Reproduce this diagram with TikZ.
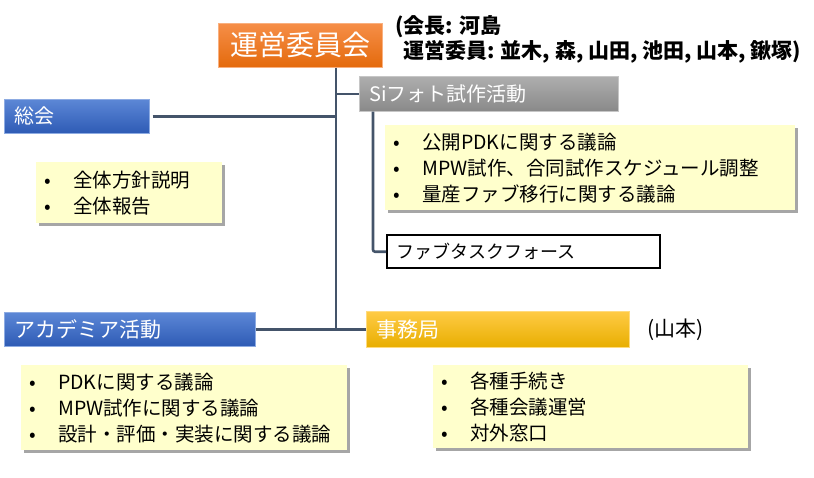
\documentclass[tikz,border=0pt]{standalone}
\usepackage{fontspec}
\setmainfont{Noto Sans CJK JP}
\usetikzlibrary{shadows}
\definecolor{connc}{HTML}{44546A}
\definecolor{orgtop}{HTML}{F68E48}
\definecolor{orgbot}{HTML}{E46A0C}
\definecolor{bluetop}{HTML}{5C87D6}
\definecolor{bluebot}{HTML}{2E5BB5}
\definecolor{graytop}{HTML}{AEAEAE}
\definecolor{graybot}{HTML}{898989}
\definecolor{goldtop}{HTML}{FFCB45}
\definecolor{goldmid}{HTML}{FFC000}
\definecolor{goldbot}{HTML}{E8AE00}
\definecolor{notefill}{HTML}{FFFFCC}
\newcommand\bul{\makebox[29pt][l]{\makebox[8pt]{•}}}
\begin{document}
\begin{tikzpicture}[x=1pt,y=-1pt,
  hdr/.style={anchor=north west, inner xsep=10pt, inner ysep=0pt, text=white,
    font=\fontsize{20}{24}\selectfont, align=left},
  orangefill/.style={top color=orgtop, bottom color=orgbot, draw=orgtop!70!white, line width=0.6pt},
  bluefill/.style={top color=bluetop, bottom color=bluebot, draw=bluetop!70!white, line width=0.6pt},
  grayfill/.style={top color=graytop, bottom color=graybot, draw=graytop!70!white, line width=0.6pt},
  goldfill/.style={top color=goldtop, middle color=goldmid, bottom color=goldbot, draw=goldtop!70!white, line width=0.6pt},
  fabbox/.style={anchor=north west, inner xsep=9pt, inner ysep=0pt, draw=black, line width=2.4pt, fill=white,
    font=\fontsize{18}{22}\selectfont, align=left},
  notebox/.style={anchor=north west, inner xsep=8pt, inner ysep=0pt, fill=notefill, align=left,
    font=\fontsize{19.5}{26}\selectfont,
    drop shadow={shadow xshift=3pt, shadow yshift=-3pt, fill=black, opacity=0.35}},
  conn/.style={draw=connc, line width=2.6pt},
  notetext/.style={anchor=west, inner sep=0pt, font=\fontsize{21}{26}\selectfont\bfseries}
]
\useasboundingbox (0,0) rectangle (814,477);

% header boxes
\node[hdr, orangefill, minimum width=164pt, minimum height=44pt, text width=144pt, align=center,
  font=\fontsize{28}{30}\selectfont] (comm) at (218,23) {運営委員会};
\node[hdr, bluefill, minimum width=145pt, minimum height=34pt, text width=125pt] (soukai) at (4,99) {総会};
\node[hdr, grayfill, minimum width=259pt, minimum height=35pt, text width=239pt] (si) at (359,76) {Siフォト試作活動};
\node[hdr, bluefill, minimum width=251pt, minimum height=34pt, text width=231pt,
  font=\fontsize{21}{24}\selectfont] (acad) at (4,312) {アカデミア活動};
\node[hdr, goldfill, minimum width=263pt, minimum height=36pt, text width=243pt,
  font=\fontsize{21}{24}\selectfont] (jimu) at (366,311) {事務局};
\node[fabbox, minimum width=273pt, minimum height=33pt, text width=255pt] (fab) at (386,234) {ファブタスクフォース};

% notes
\node[notetext] (chair) at (395,27) {(会長: 河島};
\node[notetext] (members) at (403,52) {運営委員: 並木, 森, 山田, 池田, 山本, 鍬塚)};
\node[anchor=west, inner sep=0pt, font=\fontsize{21}{24}\selectfont] (yamamoto) at (647,330) {(山本)};

% bullet boxes
\node[notebox, minimum width=410pt, minimum height=85pt, text width=394pt] (sinote) at (385,125)
  {\bul 公開PDKに関する議論\\ \bul MPW試作、合同試作スケジュール調整\\ \bul 量産ファブ移行に関する議論};
\node[notebox, minimum width=186pt, minimum height=61pt, text width=170pt] (sounote) at (36,162)
  {\bul 全体方針説明\\ \bul 全体報告};
\node[notebox, minimum width=326pt, minimum height=85pt, text width=310pt] (acnote) at (21,365)
  {\bul PDKに関する議論\\ \bul MPW試作に関する議論\\ \bul 設計・評価・実装に関する議論};
\node[notebox, minimum width=315pt, minimum height=83pt, text width=299pt] (jmnote) at (433,365)
  {\bul 各種手続き\\ \bul 各種会議運営\\ \bul 対外窓口};

% connectors
\coordinate (trunkbot) at (336,331);
\draw[conn] (comm.south -| trunkbot) -- (trunkbot);
\draw[conn, shorten <=3pt] (soukai.east) -- (soukai.east -| trunkbot);
\draw[conn] (si.west) -- (si.west -| trunkbot);
\draw[conn] (acad.east) -- (jimu.west);
\draw[conn, rounded corners=2pt] ([xshift=14pt]si.south west) |- (fab.west);
\end{tikzpicture}
\end{document}
